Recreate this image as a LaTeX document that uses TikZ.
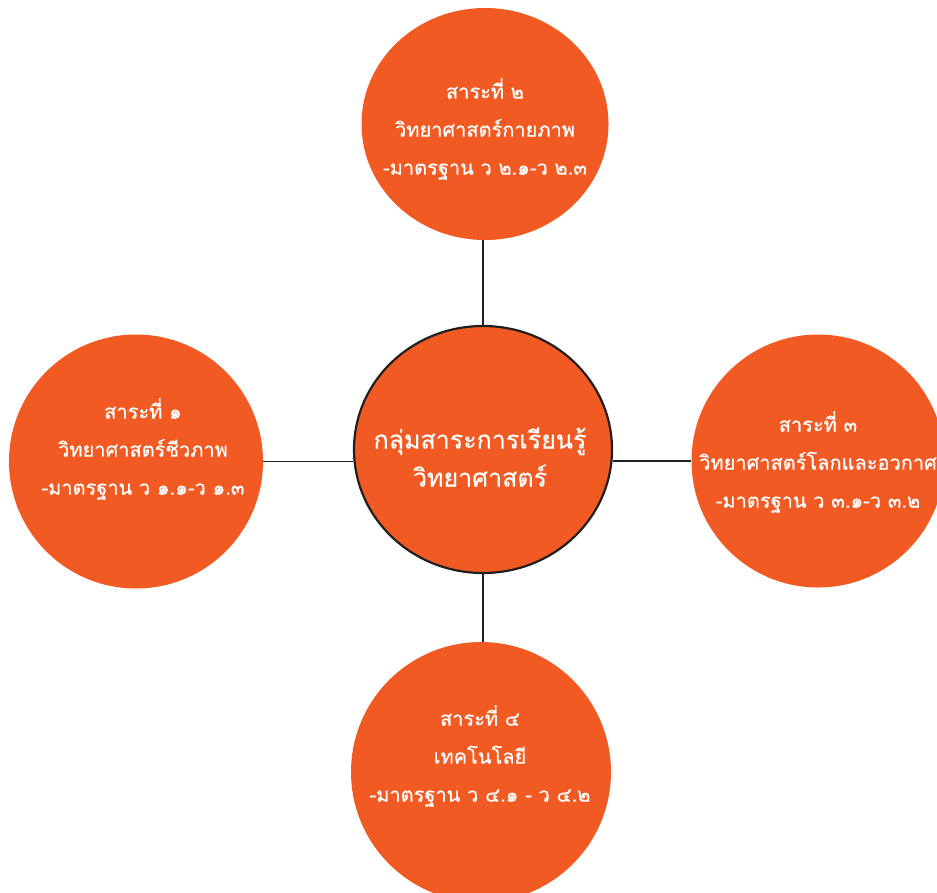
\documentclass[tikz,border=0pt]{standalone}
\usepackage{fontspec}
\newfontfamily\thaifont[Script=Thai,FakeBold=0.5]{Loma}
\usetikzlibrary{shapes.geometric}
\definecolor{sara}{HTML}{F15A22}
\definecolor{edge}{HTML}{231F20}
\tikzset{
  bubble/.style={ellipse, fill=sara, inner sep=0pt},
  words/.style={text=white, align=center, font=\thaifont\fontsize{20}{38}\selectfont},
  link/.style={draw=edge, line width=1.2pt},
}
\begin{document}
\begin{tikzpicture}[x=1pt,y=-1pt]
	\useasboundingbox (0,0) rectangle (937,892);
	% circles
	\node[bubble, minimum width=247, minimum height=232] (sara2) at (485,124) {};
	\node[bubble, minimum size=254] (sara1) at (136,461.5) {};
	\node[bubble, minimum size=253] (sara3) at (818,461) {};
	\node[bubble, minimum size=260] (sara4) at (481,772) {};
	\node[bubble, minimum width=258, minimum height=247, draw=edge, line width=2.2pt] (core) at (483,449.5) {};
	% links
	\draw[link] (core.north |- sara2.south) -- (core.north);
	\draw[link] (sara1.east) -- (core.west |- sara1.east);
	\draw[link] (core.east |- sara3.west) -- (sara3.west);
	\draw[link] (core.south) -- (core.south |- sara4.north);
	% texts
	\node[words] (core text) at (480,457) {\fontsize{25}{45}\selectfont กลุ่มสาระการเรียนรู้\\\fontsize{25}{45}\selectfont วิทยาศาสตร์};
	\node[words] (sara2 text) at (485,129) {สาระที่ ๒\\วิทยาศาสตร์กายภาพ\\-มาตรฐาน ว ๒.๑-ว ๒.๓};
	\node[words] (sara1 text) at (143,449) {สาระที่ ๑\\วิทยาศาสตร์ชีวภาพ\\-มาตรฐาน ว ๑.๑-ว ๑.๓};
	\node[words] (sara3 text) at (818,462) {สาระที่ ๓\\วิทยาศาสตร์โลกและอวกาศ\\-มาตรฐาน ว ๓.๑-ว ๓.๒};
	\node[words] (sara4 text) at (480,756) {สาระที่ ๔\\เทคโนโลยี\\-มาตรฐาน ว ๔.๑ - ว ๔.๒};
\end{tikzpicture}
\end{document}
